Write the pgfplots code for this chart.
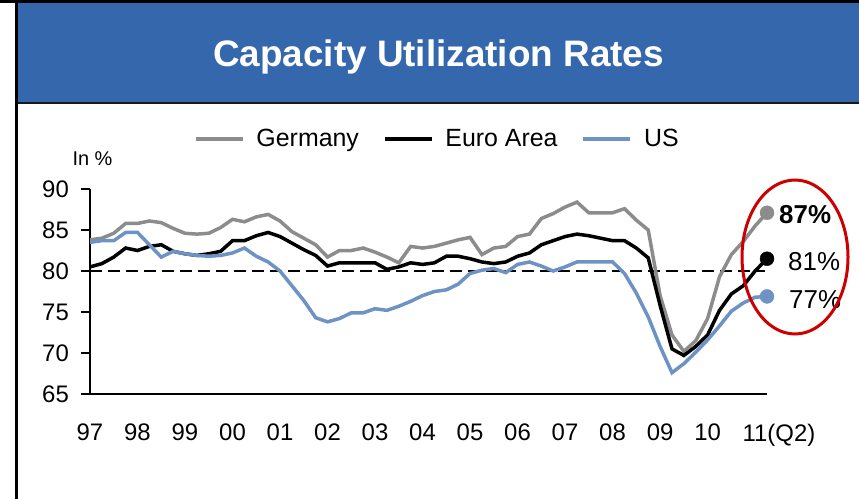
\documentclass[border=0pt]{standalone}
\usepackage{pgfplots}
\pgfplotsset{compat=1.18}
\usepackage{pgfplotstable}
\usepackage{fontspec}
\setmainfont{Liberation Sans}
\definecolor{banner}{RGB}{53,103,172}
\definecolor{degray}{RGB}{140,140,140}
\definecolor{usblue}{RGB}{111,146,196}
\definecolor{ellred}{RGB}{204,0,0}

\pgfplotstableread{
x de ea us
1997.00 83.8 80.5 83.5
1997.25 84.0 80.9 83.7
1997.50 84.6 81.7 83.7
1997.75 85.8 82.8 84.7
1998.00 85.8 82.5 84.7
1998.25 86.1 83.0 83.2
1998.50 85.9 83.2 81.7
1998.75 85.2 82.4 82.4
1999.00 84.6 82.1 82.1
1999.25 84.5 81.9 81.9
1999.50 84.6 82.1 81.8
1999.75 85.3 82.4 81.9
2000.00 86.3 83.7 82.2
2000.25 86.0 83.7 82.8
2000.50 86.6 84.3 81.8
2000.75 86.9 84.7 81.1
2001.00 86.1 84.2 80.0
2001.25 84.8 83.4 78.2
2001.50 84.0 82.6 76.4
2001.75 83.2 81.9 74.3
2002.00 81.7 80.6 73.8
2002.25 82.5 81.0 74.2
2002.50 82.5 81.0 74.9
2002.75 82.8 81.0 74.9
2003.00 82.3 81.0 75.4
2003.25 81.7 80.2 75.2
2003.50 81.0 80.5 75.7
2003.75 83.0 81.0 76.3
2004.00 82.8 80.8 77.0
2004.25 83.0 81.0 77.5
2004.50 83.4 81.8 77.7
2004.75 83.8 81.8 78.4
2005.00 84.1 81.5 79.7
2005.25 82.0 81.1 80.1
2005.50 82.8 80.9 80.3
2005.75 83.0 81.1 79.8
2006.00 84.2 81.8 80.8
2006.25 84.5 82.2 81.1
2006.50 86.4 83.2 80.6
2006.75 87.0 83.7 80.0
2007.00 87.8 84.2 80.5
2007.25 88.4 84.5 81.1
2007.50 87.1 84.3 81.1
2007.75 87.1 84.0 81.1
2008.00 87.1 83.7 81.1
2008.25 87.6 83.7 79.7
2008.50 86.2 82.8 77.3
2008.75 85.0 81.6 74.4
2009.00 77.0 75.8 70.8
2009.25 72.2 70.5 67.6
2009.50 70.2 69.7 68.7
2009.75 71.5 70.8 70.1
2010.00 74.2 72.2 71.6
2010.25 79.3 75.2 73.3
2010.50 82.0 77.2 75.1
2010.75 83.6 78.2 76.1
2011.00 85.5 80.0 76.8
2011.25 87.1 81.5 76.9
}\datatable

\begin{document}
\begin{tikzpicture}
\path[use as bounding box] (0bp,0bp) rectangle (859bp,-499bp);
\fill[black] (0bp,0bp) rectangle (859bp,-2.5bp);
\fill[banner] (17.5bp,-2.5bp) rectangle (859bp,-102bp);
\fill[black!90] (17.5bp,-102bp) rectangle (859bp,-104bp);
\fill[black] (15bp,0bp) rectangle (17.5bp,-499bp);
\node[text=white, font=\fontsize{37}{42}\selectfont\bfseries, anchor=base, inner sep=0pt] at (438.5bp,-66.7bp) {Capacity Utilization Rates};
\node[font=\fontsize{20}{24}\selectfont, anchor=center, inner sep=0pt] at (92.5bp,-159bp) {In \%};

\begin{axis}[
  at={(90bp,-394bp)}, anchor=south west, scale only axis,
  width=677bp, height=205bp,
  xmin=1997, xmax=2011.25, ymin=65, ymax=90,
  clip=false,
  axis x line*=bottom, axis y line*=left,
  axis line style={line width=1.5bp, black, -},
  xtick={1997,...,2011},
  xticklabels={97,98,99,00,01,02,03,04,05,06,07,08,09,10,11\rlap{(Q2)}},
  ytick={65,70,75,80,85,90},
  tick align=outside,
  major tick length=9bp,
  x tick style={draw=none},
  y tick style={line width=1.5bp, black},
  /pgf/number format/assume math mode=true,
  tick label style={font=\fontsize{24}{28}\selectfont},
  yticklabel style={anchor=east, inner sep=0pt, xshift=-12bp},
  xticklabel style={anchor=north, inner sep=0pt, yshift=-21bp},
  legend columns=3,
  legend style={draw=none, fill=none, at={(0.513,1.244)}, anchor=center,
    font=\fontsize{25}{30}\selectfont,
    /tikz/every odd column/.append style={column sep=10bp},
    /tikz/every even column/.append style={column sep=22bp}},
  legend image code/.code={\draw[#1] (0bp,0bp) -- (47bp,0bp);},
]
\addplot[black, line width=1.5bp, dash pattern=on 12bp off 6bp, forget plot] coordinates {(1997,80) (2011.2,80)};
\addplot[degray, line width=3.5bp] table[x=x,y=de]{\datatable};
\addlegendentry{Germany}
\addplot[black, line width=3.5bp] table[x=x,y=ea]{\datatable};
\addlegendentry{Euro Area}
\addplot[usblue, line width=3.5bp] table[x=x,y=us]{\datatable};
\addlegendentry{US}
\addplot[only marks, mark=*, mark size=7bp, degray, forget plot] coordinates {(2011.25,87.1)};
\addplot[only marks, mark=*, mark size=7bp, black, forget plot] coordinates {(2011.25,81.5)};
\addplot[only marks, mark=*, mark size=7bp, usblue, forget plot] coordinates {(2011.25,76.9)};
\node[anchor=west, inner sep=0pt, font=\fontsize{26}{30}\selectfont\bfseries, xshift=12bp, yshift=-2bp] at (axis cs:2011.25,87.1) {87\%};
\node[anchor=west, inner sep=0pt, font=\fontsize{26}{30}\selectfont, xshift=21bp, yshift=-3bp] at (axis cs:2011.25,81.5) {81\%};
\node[anchor=west, inner sep=0pt, font=\fontsize{26}{30}\selectfont, xshift=22bp, yshift=-3bp] at (axis cs:2011.25,76.9) {77\%};
\end{axis}
\draw[ellred, line width=3bp] (795bp,-257bp) ellipse [x radius=53bp, y radius=77bp];
\end{tikzpicture}
\end{document}
